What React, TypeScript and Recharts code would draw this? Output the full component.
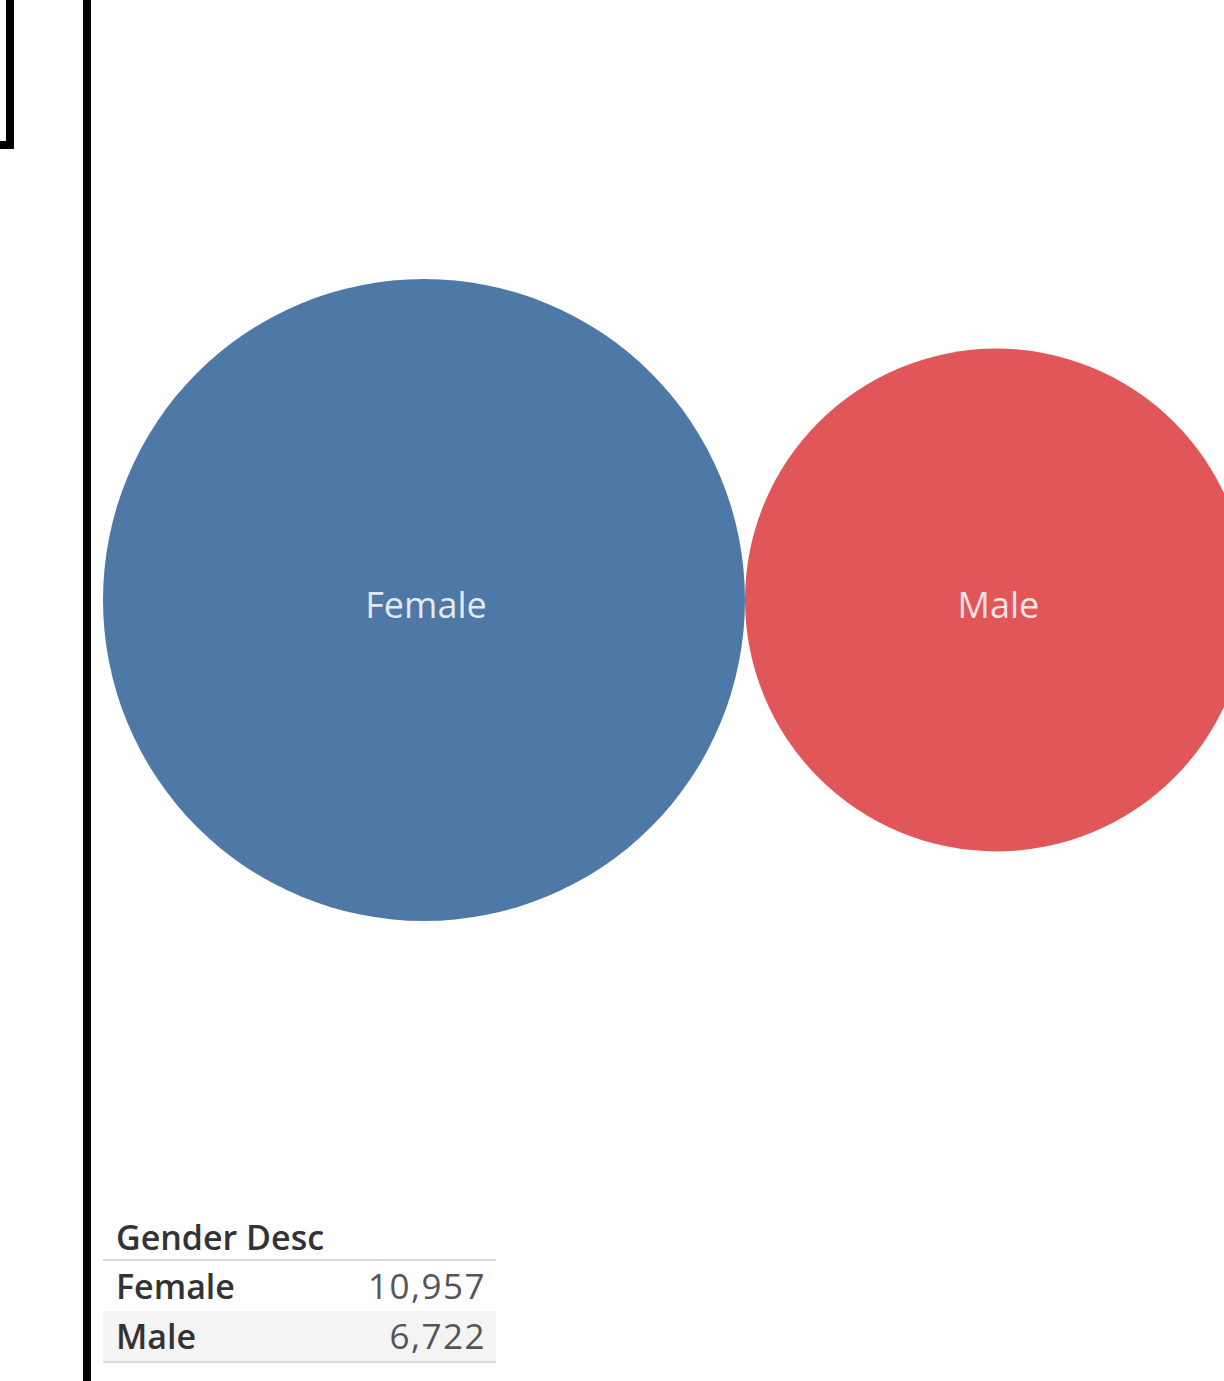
import React from 'react';
import { ScatterChart, Scatter, XAxis, YAxis, ZAxis, LabelList } from 'recharts';

const genders = ['Female', 'Male'];
const counts = [10957, 6722];
const colors = ['#4e79a7', '#e15759'];

const W = 1224;
const H = 1381;
const PX_PER_UNIT = 3.0666; // bubble radius px per sqrt(count)
const MAX_R = Math.sqrt(Math.max(...counts)) * PX_PER_UNIT;

// pack bubbles side by side, touching, in sqrt(count) units
const units = counts.map((c) => Math.sqrt(c));
const bubbles = genders.map((g, i) => ({
  name: g,
  value: counts[i],
  x: i === 0 ? 0 : units[0] + units[i],
  y: 0,
  fill: colors[i],
}));

const xMin = -424 / PX_PER_UNIT;
const xMax = xMin + W / PX_PER_UNIT;

function Bubble(props: any) {
  const { cx, cy, width, payload } = props;
  return <circle cx={cx} cy={cy} r={width / 2} fill={payload.fill} />;
}

function fmt(n: number) {
  return n.toLocaleString('en-US');
}

export default function App() {
  return (
    <div style={{ position: 'absolute', left: 0, top: 0, width: W, height: H, background: '#fff', overflow: 'hidden' }}>
      <ScatterChart width={W} height={H} margin={{ top: 0, right: 0, bottom: 0, left: 0 }}>
        <XAxis type="number" dataKey="x" domain={[xMin, xMax]} hide allowDataOverflow />
        <YAxis type="number" dataKey="y" domain={[-781, 600]} hide allowDataOverflow />
        <ZAxis type="number" dataKey="value" domain={[0, Math.max(...counts)]} range={[0, Math.PI * MAX_R * MAX_R]} />
        <Scatter data={bubbles} shape={<Bubble />} isAnimationActive={false}>
          <LabelList
            dataKey="name"
            position="center"
            fill="#ffffff"
            fillOpacity={0.85}
            dy={5}
            dx={2}
            style={{ fontFamily: 'Open Sans', fontSize: 36 }}
          />
        </Scatter>
      </ScatterChart>

      {/* frame pieces */}
      <div style={{ position: 'absolute', left: 6, top: 0, width: 8, height: 149, background: '#000' }} />
      <div style={{ position: 'absolute', left: 0, top: 141, width: 14, height: 8, background: '#000' }} />
      <div style={{ position: 'absolute', left: 83, top: 0, width: 8, height: H, background: '#000' }} />

      {/* summary table */}
      <div style={{ position: 'absolute', left: 103, top: 1212, width: 393, fontFamily: 'Open Sans' }}>
        <div style={{ height: 49, lineHeight: '50px', paddingLeft: 13, fontSize: 34, fontWeight: 600, color: '#333', borderBottom: '2px solid #d9d9d9', boxSizing: 'border-box' }}>
          Gender Desc
        </div>
        {genders.map((g, i) => (
          <div
            key={g}
            style={{
              display: 'flex',
              justifyContent: 'space-between',
              height: 50,
              lineHeight: '50px',
              padding: '0 10px 0 13px',
              background: i % 2 === 1 ? '#f4f4f4' : '#fff',
              borderBottom: i === genders.length - 1 ? '2px solid #d9d9d9' : 'none',
            }}
          >
            <span style={{ fontSize: 34, fontWeight: 600, color: '#333' }}>{g}</span>
            <span style={{ fontSize: 35, color: '#555', letterSpacing: 1.5 }}>{fmt(counts[i])}</span>
          </div>
        ))}
      </div>
    </div>
  );
}
